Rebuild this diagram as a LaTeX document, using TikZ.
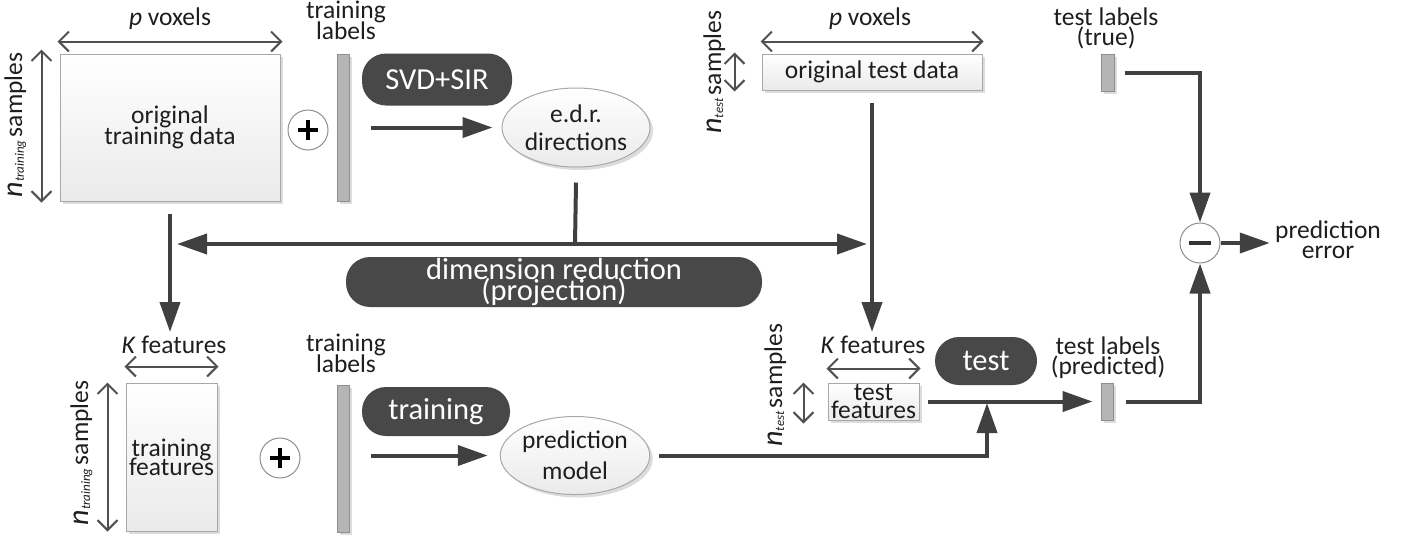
\documentclass[tikz,border=0pt]{standalone}
\usepackage{fontspec}
\setmainfont{Carlito}
\usetikzlibrary{arrows.meta,shadows,shapes.geometric}

\definecolor{flowc}{HTML}{404040}
\definecolor{pillc}{HTML}{484848}
\definecolor{dimc}{HTML}{505050}
\definecolor{boxedge}{HTML}{A8A8A8}
\definecolor{boxlow}{HTML}{EAEAEA}
\definecolor{shadowc}{HTML}{DCDCDC}
\definecolor{barc}{HTML}{B5B5B5}
\definecolor{baredge}{HTML}{8E8E8E}
\definecolor{inkc}{HTML}{1E1E1E}

% regular text and pill text, with a given baseline skip
\newcommand\diagtext[1]{\fontsize{12.75}{#1}\selectfont\lineskiplimit=-30pt\relax}
\newcommand\diagpill[1]{\fontsize{15.25}{#1}\selectfont\lineskiplimit=-30pt\relax}
% rotated "n_sub samples" label
\newcommand\samplelabel[1]{{\fontsize{15}{15}\selectfont\textit{n}}\raisebox{-1pt}{\fontsize{6.5}{6.5}\selectfont\textit{#1}}\,{\diagtext{13}samples}}

\tikzset{
  flow/.style={draw=flowc, line width=2pt, -{Triangle[length=15pt,width=10pt]}},
  plainline/.style={draw=flowc, line width=2pt},
  dimarrow/.style={draw=dimc, line width=1pt,
    {Straight Barb[length=5pt,width=10pt]}-{Straight Barb[length=5pt,width=10pt]}},
  softshadow/.style={drop shadow={shadow xshift=1.5pt, shadow yshift=-1.5pt, fill=shadowc, opacity=1}},
  databox/.style={rectangle, draw=boxedge, line width=0.5pt, top color=white, bottom color=boxlow,
    softshadow, inner sep=0pt, align=center, text=inkc},
  labelbar/.style={rectangle, draw=baredge, line width=0.5pt, fill=barc, softshadow, inner sep=0pt},
  pill/.style={rectangle, rounded corners=12pt, fill=pillc, text=white, inner sep=0pt, align=center},
  oval/.style={ellipse, draw=boxedge, line width=0.5pt, top color=white, bottom color=boxlow,
    softshadow, inner sep=0pt, align=center, text=inkc},
  opcircle/.style={circle, draw=baredge, line width=0.5pt, fill=white, minimum size=20pt, inner sep=0pt},
  plussign/.style={path picture={
    \draw[black, line width=1.8pt] ([xshift=-5pt]path picture bounding box.center) -- ([xshift=5pt]path picture bounding box.center);
    \draw[black, line width=1.8pt] ([yshift=-5pt]path picture bounding box.center) -- ([yshift=5pt]path picture bounding box.center);}},
  minussign/.style={path picture={
    \draw[flowc!80!black, line width=2pt] ([xshift=-5.5pt]path picture bounding box.center) -- ([xshift=5.5pt]path picture bounding box.center);}},
  % multi-line labels are placed by the baseline of their last line
  lbl/.style={text=inkc, align=center, inner sep=0pt, anchor=base},
  sidelbl/.style={text=inkc, inner sep=0pt, anchor=base, rotate=90},
}

\begin{document}
\begin{tikzpicture}[x=0.5pt, y=-0.5pt]
\useasboundingbox (0,0) rectangle (1411,538);

% ---------- original training data ----------
\node[databox, minimum width=110pt, minimum height=73.5pt, font=\diagtext{10.5}]
  (box1) at (170,127.5) {original\\training data};
\node[lbl, font=\diagtext{13}] (pv1) at (170,25) {\textit{p} voxels};
\node[sidelbl] (rot1) at (22,125) {\samplelabel{training}};
\draw[dimarrow] ([xshift=-1pt,yshift=6pt]box1.north west) -- ([xshift=1pt,yshift=6pt]box1.north east);
\draw[dimarrow] ([xshift=-9pt,yshift=2pt]box1.north west) -- ([xshift=-9pt,yshift=-0.5pt]box1.south west);

\node[opcircle, plussign] (plus1) at (308,130) {};
\node[labelbar, minimum width=6pt, minimum height=73.5pt] (lab1) at (343,127.5) {};
\node[lbl, font=\diagtext{10.5}] (lab1txt) at (346,39) {training\\labels};

\node[pill, minimum width=75pt, minimum height=26pt, font=\diagpill{15}] (svd) at (437,79.5) {SVD+SIR};
\node[oval, minimum width=74pt, minimum height=39.5pt, font=\diagtext{14}] (edr) at (576,127.5) {e.d.r.\\directions};
\draw[flow] ([xshift=10.5pt]lab1.east |- edr) -- ([xshift=-4.5pt]edr.west);

% ---------- projection ----------
\coordinate (jc) at (575,244);
\coordinate (jl) at (177,244);
\coordinate (jr) at (867,244);
\draw[plainline] ([yshift=-7.5pt]edr.south) -- (jc);
\draw[flow] (jc) -- (jl);
\draw[flow] (jc) -- (jr);
\node[pill, minimum width=208pt, minimum height=25pt, font=\diagpill{10.5}] (dimred) at (554,282)
  {dimension reduction\\(projection)};

% ---------- original test data ----------
\node[databox, minimum width=110pt, minimum height=18pt, font=\diagtext{13}] (box2) at (872,72) {original test data};
\node[lbl, font=\diagtext{13}] (pv2) at (870,25) {\textit{p} voxels};
\node[sidelbl] (rot2) at (721,72) {\samplelabel{test}};
\draw[dimarrow] ([xshift=-0.5pt,yshift=6pt]box2.north west) -- ([xshift=0.5pt,yshift=6pt]box2.north east);
\draw[dimarrow] ([xshift=-13.5pt,yshift=0.5pt]box2.north west) -- ([xshift=-13.5pt,yshift=-0.5pt]box2.south west);

\coordinate (k1tip) at (170,332);
\coordinate (k2tip) at (872,332);
\draw[flow] ([yshift=-6pt]box1.south) -- (k1tip);
\draw[flow] ([yshift=-6pt]box2.south) -- (k2tip);

% ---------- training features ----------
\node[lbl, font=\diagtext{13}] (kf1) at (174,353) {\textit{K} features};
\node[databox, minimum width=45.5pt, minimum height=74pt, font=\diagtext{9.5}] (tf) at (171.5,457) {training\\features};
\node[sidelbl] (rot3) at (88,453) {\samplelabel{training}};
\draw[dimarrow] ([xshift=-0.5pt,yshift=8pt]tf.north west) -- ([xshift=0.5pt,yshift=8pt]tf.north east);
\draw[dimarrow] ([xshift=-9pt]tf.north west) -- ([xshift=-9pt]tf.south west);

\node[opcircle, plussign] (plus2) at (280,458) {};
\node[labelbar, minimum width=6pt, minimum height=73.5pt] (lab2) at (343,458.5) {};
\node[lbl, font=\diagtext{10.5}] (lab2txt) at (346,372) {training\\labels};

\node[pill, minimum width=74pt, minimum height=24.5pt, font=\diagpill{15}] (train) at (436,411.5) {training};
\node[oval, minimum width=73pt, minimum height=39pt, font=\diagtext{15.5}] (pm) at (575,455.5) {prediction\\model};
\draw[flow] ([xshift=10.5pt]lab2.east |- pm) -- ([xshift=-6pt]pm.west);

% ---------- test features ----------
\node[lbl, font=\diagtext{13}] (kf2) at (873,353) {\textit{K} features};
\node[databox, minimum width=45.5pt, minimum height=18.5pt, font=\diagtext{9}] (tfeat) at (873.5,401.5) {test\\features};
\node[sidelbl] (rot4) at (782,385) {\samplelabel{test}};
\draw[dimarrow] ([xshift=-0.5pt,yshift=7pt]tfeat.north west) -- ([xshift=0.5pt,yshift=7pt]tfeat.north east);
\draw[dimarrow] ([xshift=-12pt]tfeat.north west) -- ([xshift=-12pt,yshift=-1.5pt]tfeat.south west);

\node[pill, minimum width=51pt, minimum height=24pt, font=\diagpill{15}] (test) at (986,361) {test};

\node[labelbar, minimum width=6pt, minimum height=18.5pt] (plab) at (1107,401.5) {};
\node[lbl, font=\diagtext{10}] (plabtxt) at (1108,374) {test labels\\(predicted)};

\coordinate (jt) at (987,403);
\draw[flow] ([xshift=4pt]tfeat.east) -- ([xshift=-4pt]plab.west);
\draw[flow] ([xshift=4.5pt]pm.east) -| (jt);

% ---------- prediction error ----------
\node[labelbar, minimum width=6.5pt, minimum height=18.5pt] (tlab) at (1107.5,72.5) {};
\node[lbl, font=\diagtext{10}] (tlabtxt) at (1106,45) {test labels\\(true)};

\node[opcircle, minussign] (minus) at (1200,243) {};
\node[lbl, font=\diagtext{10}] (perr) at (1328,258) {prediction\\error};

\draw[flow] ([xshift=5pt]tlab.east) -| (minus.north);
\draw[flow] ([xshift=6pt]plab.east) -| (minus.south);
\draw[flow] (minus.east) -- ([xshift=-2.5pt]perr.west |- minus.east);

\end{tikzpicture}
\end{document}
